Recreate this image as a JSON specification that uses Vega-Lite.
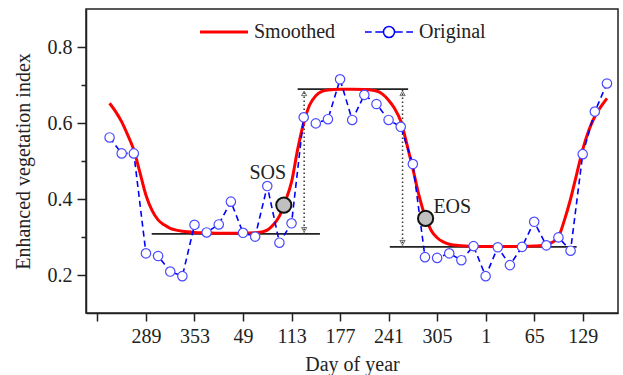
{
  "$schema": "https://vega.github.io/schema/vega-lite/v6.json",
  "width": 532,
  "height": 304,
  "autosize": {"type": "none"},
  "padding": {"left": 86, "top": 9, "right": 5, "bottom": 62},
  "background": "white",
  "config": {
    "view": {"stroke": "#222", "strokeWidth": 1.5},
    "font": "Liberation Serif",
    "axis": {
      "grid": false,
      "domainColor": "#222",
      "domainWidth": 1.5,
      "tickColor": "#222",
      "tickWidth": 1.5,
      "labelFont": "Liberation Serif",
      "labelFontSize": 20,
      "labelColor": "#222",
      "titleFont": "Liberation Serif",
      "titleFontSize": 20,
      "titleFontWeight": "normal",
      "titleColor": "#222"
    }
  },
  "datasets": {
    "original": [
      {"idx": 15, "evi": 0.562}, {"idx": 16, "evi": 0.520}, {"idx": 17, "evi": 0.520},
      {"idx": 18, "evi": 0.257}, {"idx": 19, "evi": 0.250}, {"idx": 20, "evi": 0.209},
      {"idx": 21, "evi": 0.197}, {"idx": 22, "evi": 0.332}, {"idx": 23, "evi": 0.312},
      {"idx": 24, "evi": 0.333}, {"idx": 25, "evi": 0.393}, {"idx": 26, "evi": 0.311},
      {"idx": 27, "evi": 0.301}, {"idx": 28, "evi": 0.434}, {"idx": 29, "evi": 0.285},
      {"idx": 30, "evi": 0.336}, {"idx": 31, "evi": 0.615}, {"idx": 32, "evi": 0.599},
      {"idx": 33, "evi": 0.610}, {"idx": 34, "evi": 0.715}, {"idx": 35, "evi": 0.608},
      {"idx": 36, "evi": 0.674}, {"idx": 37, "evi": 0.650}, {"idx": 38, "evi": 0.608},
      {"idx": 39, "evi": 0.590}, {"idx": 40, "evi": 0.492}, {"idx": 41, "evi": 0.247},
      {"idx": 42, "evi": 0.245}, {"idx": 43, "evi": 0.257}, {"idx": 44, "evi": 0.239},
      {"idx": 45, "evi": 0.276}, {"idx": 46, "evi": 0.197}, {"idx": 47, "evi": 0.273},
      {"idx": 48, "evi": 0.226}, {"idx": 49, "evi": 0.274}, {"idx": 50, "evi": 0.340},
      {"idx": 51, "evi": 0.278}, {"idx": 52, "evi": 0.299}, {"idx": 53, "evi": 0.264},
      {"idx": 54, "evi": 0.518}, {"idx": 55, "evi": 0.630}, {"idx": 56, "evi": 0.704}
    ],
    "smoothed": [
      {"idx": 15, "evi": 0.652}, {"idx": 15.5, "evi": 0.630}, {"idx": 16, "evi": 0.603},
      {"idx": 16.5, "evi": 0.568}, {"idx": 17, "evi": 0.529}, {"idx": 17.5, "evi": 0.470},
      {"idx": 18, "evi": 0.410}, {"idx": 18.5, "evi": 0.370}, {"idx": 19, "evi": 0.345},
      {"idx": 19.5, "evi": 0.332}, {"idx": 20, "evi": 0.323}, {"idx": 20.5, "evi": 0.318},
      {"idx": 21, "evi": 0.315}, {"idx": 22, "evi": 0.312}, {"idx": 23, "evi": 0.311},
      {"idx": 24, "evi": 0.310}, {"idx": 25, "evi": 0.310}, {"idx": 26, "evi": 0.310},
      {"idx": 27, "evi": 0.311}, {"idx": 27.5, "evi": 0.313}, {"idx": 28, "evi": 0.318},
      {"idx": 28.5, "evi": 0.332}, {"idx": 29, "evi": 0.355}, {"idx": 29.5, "evi": 0.395},
      {"idx": 30, "evi": 0.445}, {"idx": 30.5, "evi": 0.530}, {"idx": 31, "evi": 0.600},
      {"idx": 31.5, "evi": 0.648}, {"idx": 32, "evi": 0.672}, {"idx": 32.5, "evi": 0.683},
      {"idx": 33, "evi": 0.687}, {"idx": 34, "evi": 0.689}, {"idx": 35, "evi": 0.689},
      {"idx": 36, "evi": 0.688}, {"idx": 37, "evi": 0.684}, {"idx": 37.5, "evi": 0.676},
      {"idx": 38, "evi": 0.660}, {"idx": 38.5, "evi": 0.638}, {"idx": 39, "evi": 0.605},
      {"idx": 39.5, "evi": 0.545}, {"idx": 40, "evi": 0.480}, {"idx": 40.5, "evi": 0.410},
      {"idx": 41, "evi": 0.355}, {"idx": 41.5, "evi": 0.318}, {"idx": 42, "evi": 0.298},
      {"idx": 42.5, "evi": 0.287}, {"idx": 43, "evi": 0.281}, {"idx": 44, "evi": 0.277},
      {"idx": 45, "evi": 0.275}, {"idx": 46, "evi": 0.275}, {"idx": 47, "evi": 0.275},
      {"idx": 48, "evi": 0.275}, {"idx": 49, "evi": 0.275}, {"idx": 50, "evi": 0.276},
      {"idx": 51, "evi": 0.279}, {"idx": 51.5, "evi": 0.286}, {"idx": 52, "evi": 0.300},
      {"idx": 52.5, "evi": 0.345}, {"idx": 53, "evi": 0.400}, {"idx": 53.5, "evi": 0.465},
      {"idx": 54, "evi": 0.530}, {"idx": 54.5, "evi": 0.580}, {"idx": 55, "evi": 0.617},
      {"idx": 55.5, "evi": 0.643}, {"idx": 56, "evi": 0.665}
    ],
    "levels": [
      {"from": 18.47, "to": 32.34, "evi": 0.308},
      {"from": 30.5, "to": 39.61, "evi": 0.689},
      {"from": 38.1, "to": 53.5, "evi": 0.274}
    ],
    "amplitude": [
      {"idx": 31.04, "low": 0.308, "high": 0.689},
      {"idx": 39.15, "low": 0.274, "high": 0.689}
    ],
    "heads": [
      {"idx": 31.04, "evi": 0.678, "end": "up"},
      {"idx": 31.04, "evi": 0.319, "end": "down"},
      {"idx": 39.15, "evi": 0.678, "end": "up"},
      {"idx": 39.15, "evi": 0.285, "end": "down"}
    ],
    "phenology": [
      {"name": "SOS", "idx": 29.36, "evi": 0.384, "labelIdx": 28.04, "labelEvi": 0.469},
      {"name": "EOS", "idx": 41.05, "evi": 0.349, "labelIdx": 43.25, "labelEvi": 0.380}
    ]
  },
  "encoding": {
    "x": {
      "field": "idx",
      "type": "quantitative",
      "scale": {"domain": [13.057, 56.91], "nice": false, "zero": false},
      "axis": {
        "title": "Day of year",
        "values": [14, 18, 22, 26, 30, 34, 38, 42, 46, 50, 54],
        "labelExpr": "datum.value == 14 ? '' : '' + ((datum.value % 23) * 16 + 1)",
        "tickSize": 8,
        "labelPadding": 5,
        "titlePadding": 8
      }
    },
    "y": {
      "field": "evi",
      "type": "quantitative",
      "scale": {"domain": [0.1, 0.9], "nice": false, "zero": false},
      "axis": {
        "title": "Enhanced vegetation index",
        "values": [0.2, 0.3, 0.4, 0.5, 0.6, 0.7, 0.8],
        "labelExpr": "round(datum.value * 10) % 2 == 0 ? format(datum.value, '.1f') : ''",
        "tickSize": {"condition": {"test": "round(datum.value * 10) % 2 == 1", "value": 5}, "value": 9},
        "labelPadding": 5,
        "titlePadding": 14
      }
    }
  },
  "layer": [
    {
      "data": {"name": "levels"},
      "mark": {"type": "rule", "color": "#222", "strokeWidth": 1.8},
      "encoding": {"x": {"field": "from"}, "x2": {"field": "to"}, "y": {"field": "evi"}}
    },
    {
      "data": {"name": "amplitude"},
      "mark": {"type": "rule", "color": "#333", "strokeWidth": 1.5, "strokeDash": [1.5, 2.5]},
      "encoding": {"y": {"field": "low"}, "y2": {"field": "high"}}
    },
    {
      "data": {"name": "heads"},
      "mark": {"type": "point", "filled": false, "color": "#333", "strokeWidth": 1, "size": 28},
      "encoding": {
        "shape": {"field": "end", "type": "nominal", "scale": {"domain": ["up", "down"], "range": ["triangle-up", "triangle-down"]}, "legend": null}
      }
    },
    {
      "data": {"name": "smoothed"},
      "mark": {"type": "line", "strokeWidth": 3, "interpolate": "monotone"},
      "encoding": {
        "color": {
          "datum": "Smoothed",
          "type": "nominal",
          "scale": {"domain": ["Smoothed", "Original"], "range": ["#ff0000", "#0000ff"]},
          "legend": {
            "title": null,
            "orient": "none",
            "legendX": 128,
            "legendY": 13,
            "direction": "horizontal",
            "padding": 0,
            "columnPadding": 26,
            "symbolType": "stroke",
            "symbolSize": 2304,
            "labelOffset": 20,
            "labelFont": "Liberation Serif",
            "labelFontSize": 20,
            "labelColor": "#222",
            "labelLimit": 200,
            "encode": {
              "symbols": {
                "update": {
                  "shape": {"signal": "datum.value === 'Original' ? 'M-1,0H-0.72M-0.57,0H-0.24M0.24,0H0.57M0.72,0H1M0.23,0A0.23,0.23 0 1 1 -0.23,0A0.23,0.23 0 1 1 0.23,0' : 'M-1,0H1'"},
                  "strokeWidth": {"signal": "datum.value === 'Original' ? 1.5 : 3"},
                  "fill": {"value": "white"},
                  "strokeDash": {"value": []}
                }
              }
            }
          }
        }
      }
    },
    {
      "data": {"name": "original"},
      "mark": {"type": "line", "strokeWidth": 1.6, "strokeDash": [6, 4]},
      "encoding": {
        "color": {"datum": "Original", "type": "nominal"}
      }
    },
    {
      "data": {"name": "original"},
      "mark": {"type": "point", "filled": false, "fill": "white", "fillOpacity": 1, "stroke": "#4a4aff", "strokeWidth": 1.2, "size": 88, "opacity": 1}
    },
    {
      "data": {"name": "phenology"},
      "mark": {"type": "point", "filled": true, "fill": "#c0c0c0", "stroke": "#111", "strokeWidth": 2, "size": 230, "opacity": 1, "shape": "circle"}
    },
    {
      "data": {"name": "phenology"},
      "mark": {"type": "text", "font": "Liberation Serif", "fontSize": 20, "color": "#222"},
      "encoding": {
        "x": {"field": "labelIdx"},
        "y": {"field": "labelEvi"},
        "text": {"field": "name"}
      }
    }
  ]
}
